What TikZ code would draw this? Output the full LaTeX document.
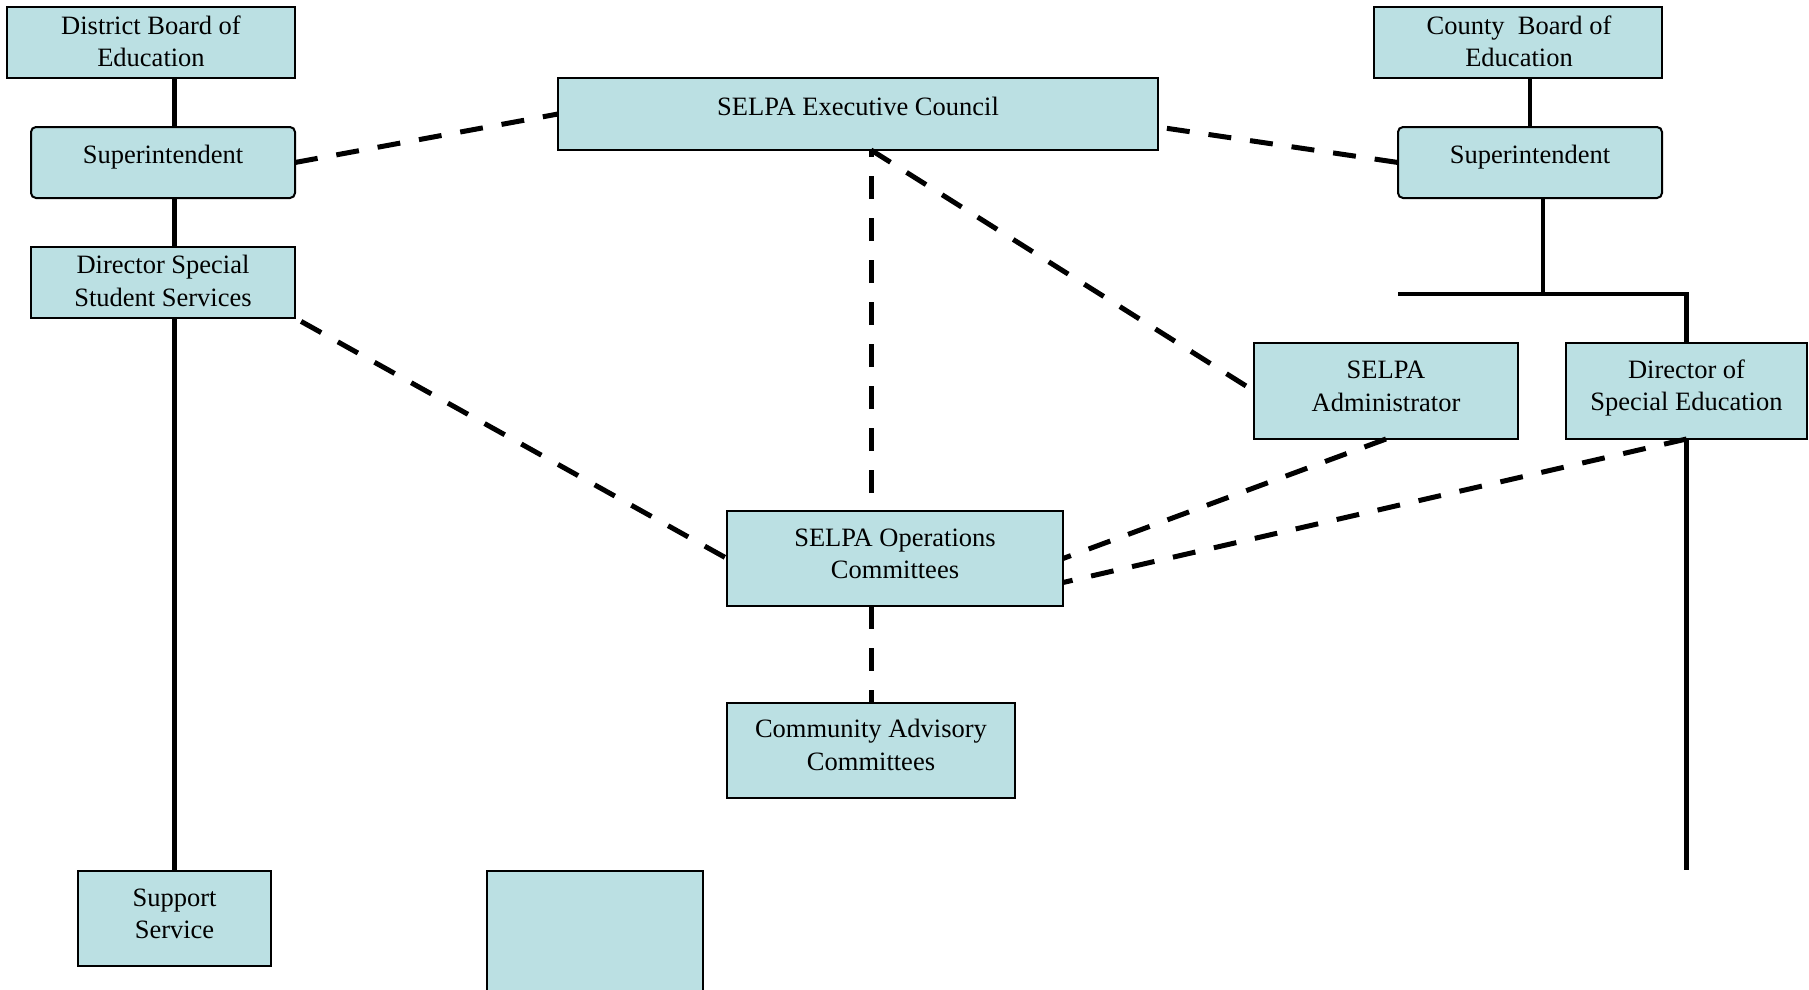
\documentclass[tikz,border=0pt]{standalone}
\usepackage{fontspec}
\setmainfont{Liberation Serif}
\definecolor{boxfill}{RGB}{187,224,227}
\tikzset{
  box/.style={draw=black, line width=2pt, fill=boxfill, inner sep=0pt, outer sep=0pt},
  rbox/.style={box, rounded corners=5pt},
  txt/.style={inner sep=0pt, align=center, font=\fontsize{26.5}{32.3}\selectfont},
  solidline/.style={line width=4.8pt, line join=miter},
  dashline/.style={line width=5pt, dash pattern=on 23pt off 19pt}
}
\begin{document}
\begin{tikzpicture}[x=1pt, y=-1pt]
\fill[white] (0,0) rectangle (1809,990);
\useasboundingbox (0,0) rectangle (1809,990);
% boxes
\node[box,  minimum width=288, minimum height=71] (dbe) at (151,42.5) {};
\node[rbox, minimum width=264, minimum height=71] (sl)  at (163,162.5) {};
\node[box,  minimum width=264, minimum height=71] (dss) at (163,282.5) {};
\node[box,  minimum width=600, minimum height=72] (exec) at (858,114) {};
\node[box,  minimum width=288, minimum height=71] (cbe) at (1518,42.5) {};
\node[rbox, minimum width=264, minimum height=71] (sr)  at (1530,162.5) {};
\node[box,  minimum width=264, minimum height=96] (adm) at (1386,391) {};
\node[box,  minimum width=241, minimum height=96] (dse) at (1686.5,391) {};
\node[box,  minimum width=336, minimum height=95] (ops) at (895,558.5) {};
\node[box,  minimum width=288, minimum height=95] (cac) at (871,750.5) {};
\node[box,  minimum width=193, minimum height=95] (ss)  at (174.5,918.5) {};
\node[box,  minimum width=216, minimum height=149] (blank) at (595,945.5) {};
% texts
\node[txt] (dbe-t) at (151,41.5) {District Board of\\Education};
\node[txt] (sl-t) at (163,157.5) {Superintendent};
\node[txt] (dss-t) at (163,281) {Director Special\\Student Services};
\node[txt] (exec-t) at (858,106.5) {SELPA Executive Council};
\node[txt] (cbe-t) at (1519,41.5) {County~ Board of\\Education};
\node[txt] (sr-t) at (1530,157.5) {Superintendent};
\node[txt] (adm-t) at (1386,386.5) {SELPA\\Administrator};
\node[txt] (dse-t) at (1686.5,388) {Director of\\Special Education};
\node[txt] (ops-t) at (895,554) {SELPA Operations\\Committees};
\node[txt] (cac-t) at (871,745) {Community Advisory\\Committees};
\node[txt] (ss-t) at (174.5,914) {Support\\Service};
% solid connectors, left
\draw[solidline] (dbe.south -| ss.north) -- (sl.north -| ss.north);
\draw[solidline] (sl.south -| ss.north) -- (dss.north -| ss.north);
\draw[solidline] (dss.south -| ss.north) -- (ss.north);
% solid connectors, right
\coordinate (branch) at (1543,294);
\coordinate (rend) at (1687,870);
\draw[solidline] (cbe.south -| sr.north) -- (sr.north);
\draw[solidline] (sr.south -| branch) -- (branch);
\draw[solidline] (branch -| sr.west) -- (branch -| dse.north) -- (dse.north);
\draw[solidline] (dse.south) -- (dse.south |- rend);
% dashed connectors
\draw[dashline] (sl.east) -- (exec.west);
\draw[dashline, shorten <=9pt] ([yshift=-13pt]exec.east) -- (sr.west);
\draw[dashline, shorten <=18pt] (ops.north -| cac.north) -- (exec.south -| cac.north);
\draw[dashline] (exec.south -| cac.north) -- (adm.west);
\draw[dashline, shorten <=7pt] (dss.south east) -- (ops.west);
\draw[dashline] (adm.south) -- (ops.east);
\draw[dashline] (dse.south) -- ([yshift=-24pt]ops.east);
\draw[dashline] (ops.south -| cac.north) -- (cac.north);
\end{tikzpicture}
\end{document}
